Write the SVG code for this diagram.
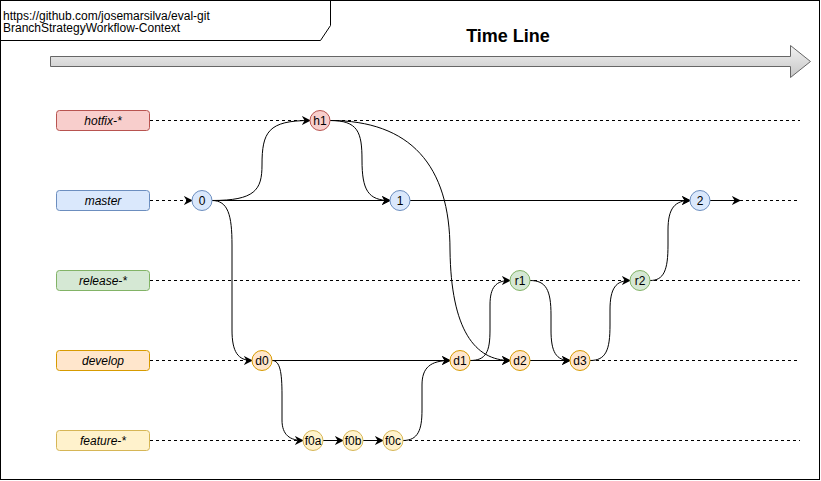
<svg xmlns="http://www.w3.org/2000/svg" width="821" height="481" viewBox="0 0 821 481">
<defs>
  <linearGradient id="tl" x1="0" y1="0" x2="0" y2="1">
    <stop offset="0" stop-color="#f2f2f2"/>
    <stop offset="1" stop-color="#c6c6c6"/>
  </linearGradient>
  <marker id="arr" viewBox="0 0 10 10" refX="9" refY="5" markerWidth="9" markerHeight="9" markerUnits="userSpaceOnUse" orient="auto">
    <path d="M0,0 L10,5 L0,10 L3,5 z" fill="#000"/>
  </marker>
</defs>
<style>
  text { font-family: "Liberation Sans", Arial, sans-serif; }
  .lbl { font-size: 12px; font-style: italic; text-anchor: middle; fill: #000; }
  .nt { font-size: 12px; text-anchor: middle; fill: #000; }
  .dash { stroke: #000; stroke-width: 1; stroke-dasharray: 3 3; fill: none; }
  .c { stroke: #000; stroke-width: 1; fill: none; marker-end: url(#arr); }
  .hot { fill: #f8cecc; stroke: #b85450; }
  .mas { fill: #dae8fc; stroke: #6c8ebf; }
  .rel { fill: #d5e8d4; stroke: #82b366; }
  .dev { fill: #ffe6cc; stroke: #d79b00; }
  .fea { fill: #fff2cc; stroke: #d6b656; }
</style>
<rect x="0" y="0" width="821" height="481" fill="#fff"/>
<g id="frame">
  <rect x="0.5" y="0.5" width="819" height="479" fill="none" stroke="#000"/>
  <path d="M0.5,40.5 L320.5,40.5 L330.5,25.5 L330.5,0.5" fill="none" stroke="#000"/>
  <text x="3" y="19.5" font-size="12">https://github.com/josemarsilva/eval-git</text>
  <text x="3" y="32" font-size="12">BranchStrategyWorkflow-Context</text>
</g>
<g id="timeline">
  <path d="M50.5,56.5 L790.5,56.5 L790.5,45.5 L810.5,61.5 L790.5,77.5 L790.5,66.5 L50.5,66.5 Z" fill="url(#tl)" stroke="#666"/>
  <text x="508" y="42" font-size="18" font-weight="bold" text-anchor="middle">Time Line</text>
</g>
<g id="lanes">
  <line class="dash" x1="150" y1="120.5" x2="800" y2="120.5"/>
  <line class="dash" x1="740" y1="200.5" x2="800" y2="200.5"/>
  <line class="dash" x1="150" y1="280.5" x2="800" y2="280.5"/>
  <line class="dash" x1="150" y1="360.5" x2="252" y2="360.5"/>
  <line class="dash" x1="590" y1="360.5" x2="800" y2="360.5"/>
  <line class="dash" x1="150" y1="440.5" x2="303" y2="440.5"/>
  <line class="dash" x1="403" y1="440.5" x2="800" y2="440.5"/>
</g>
<g id="connectors">
  <path class="c" d="M150,200.5 L192,200.5" stroke-dasharray="3 3"/>
  <path class="c" d="M212,200.5 C255,200.5 262,190 262,165 C262,132 268,120.5 310,120.5"/>
  <path class="c" d="M212,200.5 L390,200.5"/>
  <path class="c" d="M330,120.5 C358,120.5 362,132 362,160 C362,190 368,200.5 390,200.5"/>
  <path class="c" d="M330,120.5 C410,120.5 450,165 450,250 C451,330 475,360.5 510,360.5"/>
  <path class="c" d="M212,200.5 C228,200.5 232,215 232,245 L232,330 C232,352 238,360.5 252,360.5"/>
  <path class="c" d="M272,360.5 L450,360.5"/>
  <path class="c" d="M272,360.5 C280,360.5 282,372 282,395 L282,420 C282,435 290,440.5 303,440.5"/>
  <path class="c" d="M323,440.5 L343,440.5"/>
  <path class="c" d="M363,440.5 L383,440.5"/>
  <path class="c" d="M403,440.5 C418,440.5 422,430 422,410 L422,385 C422,368 430,360.5 450,360.5"/>
  <path class="c" d="M470,360.5 C486,360.5 490,352 490,330 L490,305 C490,287 496,280.5 510,280.5"/>
  <path class="c" d="M470,360.5 L510,360.5"/>
  <path class="c" d="M530,280.5 C546,280.5 551,290 551,315 L551,330 C551,352 556,360.5 570,360.5"/>
  <path class="c" d="M530,360.5 L570,360.5"/>
  <path class="c" d="M590,360.5 C606,360.5 610,350 610,325 L610,310 C610,288 616,280.5 630,280.5"/>
  <path class="c" d="M650,280.5 C664,280.5 668,270 668,245 L668,230 C668,208 675,200.5 690,200.5"/>
  <path class="c" d="M410,200.5 L690,200.5"/>
  <path class="c" d="M710,200.5 L740,200.5"/>
</g>
<g id="hotfix"><rect class="hot" x="56.5" y="110.5" width="93" height="20" rx="3"/><text class="lbl" x="103" y="124.5">hotfix-*</text></g>
<g id="master"><rect class="mas" x="56.5" y="190.5" width="93" height="20" rx="3"/><text class="lbl" x="103" y="204.5">master</text></g>
<g id="release"><rect class="rel" x="56.5" y="270.5" width="93" height="20" rx="3"/><text class="lbl" x="103" y="284.5">release-*</text></g>
<g id="develop"><rect class="dev" x="56.5" y="350.5" width="93" height="20" rx="3"/><text class="lbl" x="103" y="364.5">develop</text></g>
<g id="feature"><rect class="fea" x="56.5" y="430.5" width="93" height="20" rx="3"/><text class="lbl" x="103" y="444.5">feature-*</text></g>
<g id="n0"><circle class="mas" cx="202" cy="200.5" r="10"/><text class="nt" x="202" y="205">0</text></g>
<g id="n1"><circle class="mas" cx="400" cy="200.5" r="10"/><text class="nt" x="400" y="205">1</text></g>
<g id="n2"><circle class="mas" cx="700" cy="200.5" r="10"/><text class="nt" x="700" y="205">2</text></g>
<g id="nh1"><circle class="hot" cx="320" cy="120.5" r="10"/><text class="nt" x="320" y="125">h1</text></g>
<g id="nr1"><circle class="rel" cx="520" cy="280.5" r="10"/><text class="nt" x="520" y="285">r1</text></g>
<g id="nr2"><circle class="rel" cx="640" cy="280.5" r="10"/><text class="nt" x="640" y="285">r2</text></g>
<g id="nd0"><circle class="dev" cx="262" cy="360.5" r="10"/><text class="nt" x="262" y="365">d0</text></g>
<g id="nd1"><circle class="dev" cx="460" cy="360.5" r="10"/><text class="nt" x="460" y="365">d1</text></g>
<g id="nd2"><circle class="dev" cx="520" cy="360.5" r="10"/><text class="nt" x="520" y="365">d2</text></g>
<g id="nd3"><circle class="dev" cx="580" cy="360.5" r="10"/><text class="nt" x="580" y="365">d3</text></g>
<g id="nf0a"><circle class="fea" cx="313" cy="440.5" r="10"/><text class="nt" x="313" y="444.5" font-size="11">f0a</text></g>
<g id="nf0b"><circle class="fea" cx="353" cy="440.5" r="10"/><text class="nt" x="353" y="444.5" font-size="11">f0b</text></g>
<g id="nf0c"><circle class="fea" cx="393" cy="440.5" r="10"/><text class="nt" x="393" y="444.5" font-size="11">f0c</text></g>
</svg>
